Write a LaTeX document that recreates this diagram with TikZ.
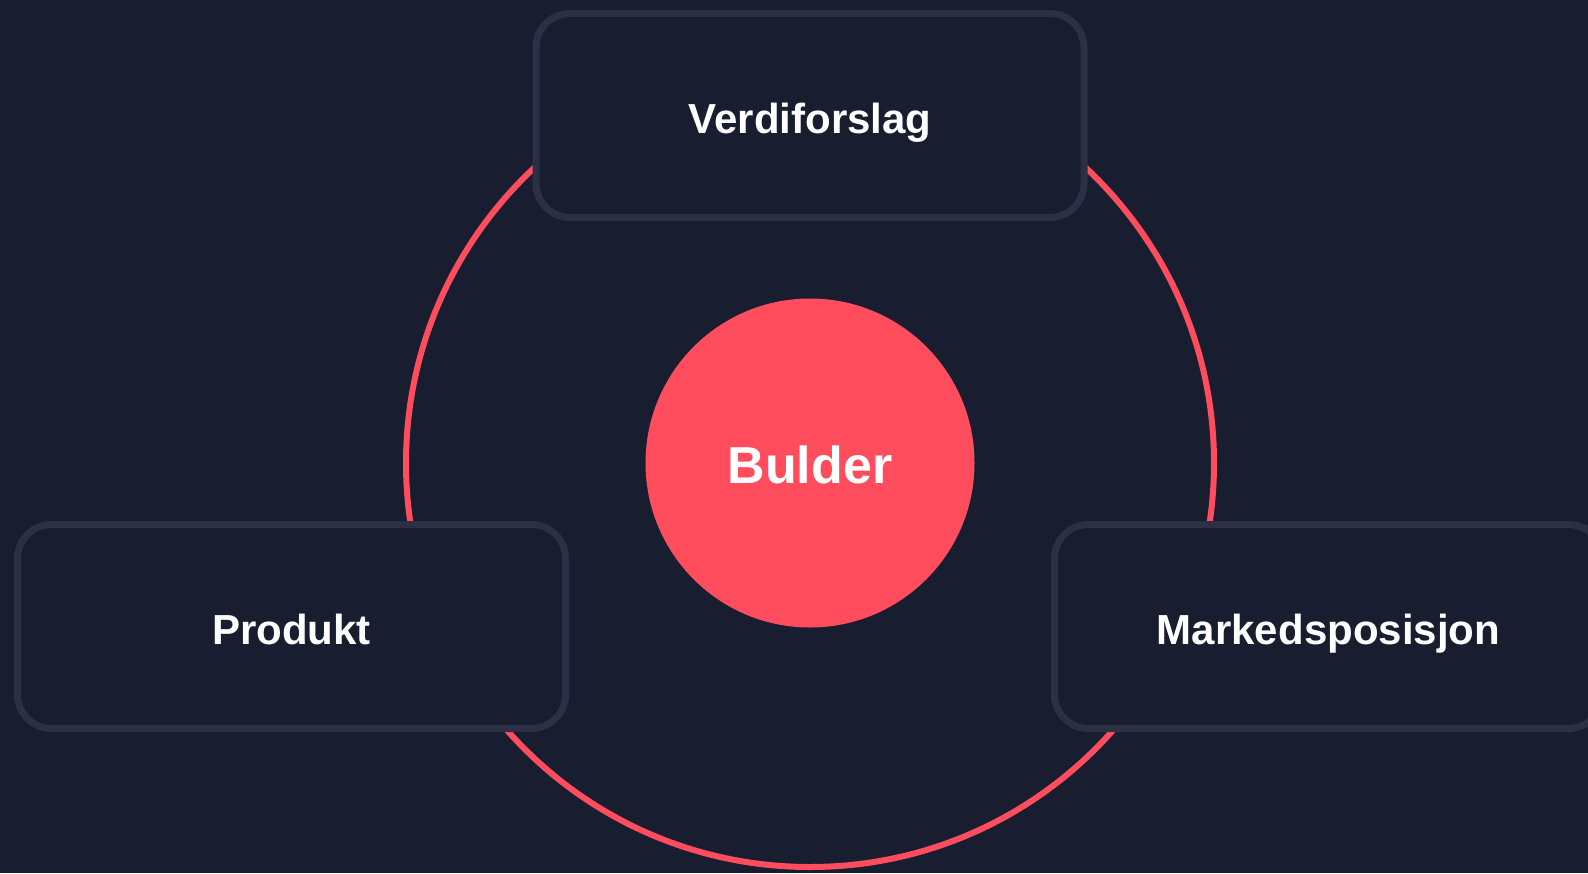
\documentclass[tikz,border=0pt]{standalone}
\usepackage{fontspec}
\setmainfont{Liberation Sans}
\definecolor{bakgrunn}{HTML}{181E2F}
\definecolor{kant}{HTML}{2B3045}
\definecolor{rosa}{HTML}{FF4D5E}
\begin{document}
\begin{tikzpicture}[x=1pt,y=-1pt, line join=round, line cap=round,
	boks/.style={rectangle, rounded corners=34pt, draw=kant, line width=7pt, fill=bakgrunn,
		minimum width=548pt, minimum height=204pt, inner sep=0pt, text=white,
		text height=36pt, text depth=0pt,
		font=\bfseries\fontsize{42}{50}\selectfont},
	kjerne/.style={circle, fill=rosa, minimum size=329pt, inner sep=0pt, text=white,
		text height=41pt, text depth=0pt,
		font=\bfseries\fontsize{52}{62}\selectfont}]
		\def\cx{810} \def\cy{463} % midtpunkt
		\def\dx{518.5}
		\fill[bakgrunn] (0,0) rectangle (1588,873);
		\useasboundingbox (0,0) rectangle (1588,873);
		\node[circle, draw=rosa, line width=6pt, minimum size=808pt, inner sep=0pt] (ring) at (\cx,\cy) {};
		\node[kjerne] (bulder) at (\cx,\cy) {Bulder};
		\node[boks] (verdi) at (\cx,115.5) {Verdiforslag};
		\node[boks] (produkt) at (\cx-\dx,626.5) {Produkt};
		\node[boks] (marked) at (\cx+\dx,626.5) {Markedsposisjon};
\end{tikzpicture}
\end{document}
